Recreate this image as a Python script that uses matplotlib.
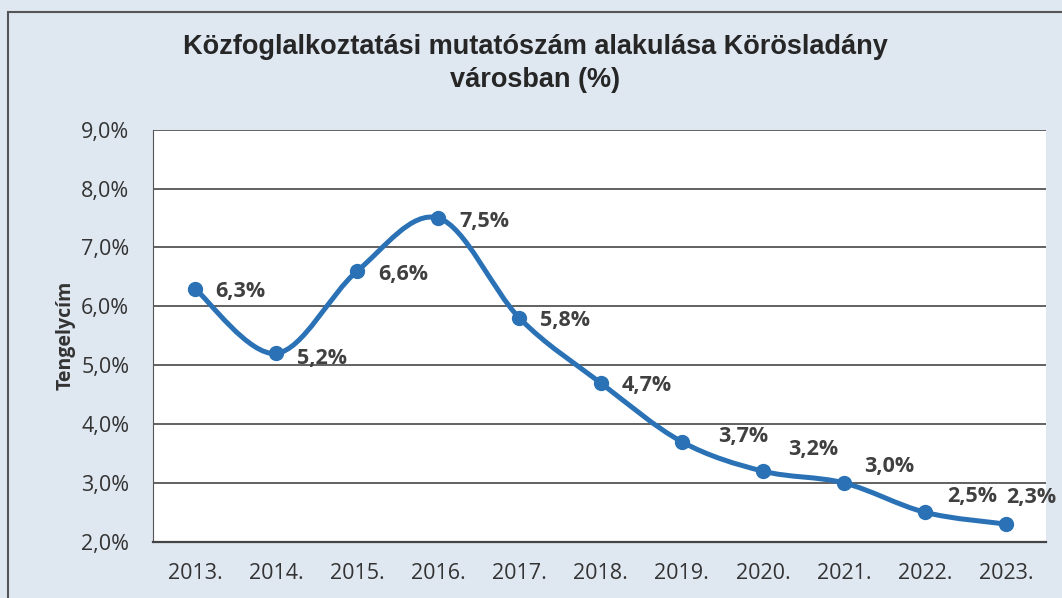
import numpy as np
import matplotlib.pyplot as plt
from matplotlib.path import Path
from matplotlib.patches import PathPatch, Rectangle
from matplotlib.ticker import FuncFormatter

years = ["2013.", "2014.", "2015.", "2016.", "2017.", "2018.",
         "2019.", "2020.", "2021.", "2022.", "2023."]
values = [6.3, 5.2, 6.6, 7.5, 5.8, 4.7, 3.7, 3.2, 3.0, 2.5, 2.3]

title = "Közfoglalkoztatási mutatószám alakulása Körösladány\nvárosban (%)"
ylabel = "Tengelycím"

# label placement (pixels from the marker to the label's left/middle)
label_offsets = [(20, -3), (21, -5), (21, -3), (21, -3), (21, -2), (21, -3),
                 (36, 5), (25, 22), (20, 16), (22, 16), (0, 27)]

line_col = "#2a72b5"
text_col = "#404040"


def smooth_path(x, y):
    # catmull-rom style bezier, like the spreadsheet "smoothed line"
    pts = np.column_stack([x, y]).astype(float)
    verts = [pts[0]]
    codes = [Path.MOVETO]
    n = len(pts)
    for i in range(n - 1):
        p0 = pts[i - 1] if i > 0 else pts[i]
        p1 = pts[i]
        p2 = pts[i + 1]
        p3 = pts[i + 2] if i + 2 < n else pts[i + 1]
        c1 = p1 + (p2 - p0) / 6.0
        c2 = p2 - (p3 - p1) / 6.0
        verts += [c1, c2, p2]
        codes += [Path.CURVE4] * 3
    return Path(verts, codes)


fig = plt.figure(figsize=(10.62, 5.98), dpi=100)
fig.patch.set_facecolor("#dfe7f1")
fig.patches.append(Rectangle((0.008, -0.05), 1.1, 1.03, transform=fig.transFigure,
                             fill=False, edgecolor="#555555", lw=1.5))

ax = fig.add_axes([0.144, 0.094, 0.841, 0.689])
ax.set_facecolor("white")
x = np.arange(len(values))

ax.add_patch(PathPatch(smooth_path(x, values), fill=False, edgecolor=line_col,
                       lw=3.6, capstyle="round", joinstyle="round", zorder=3))
ax.plot(x, values, "o", color=line_col, ms=10, zorder=4)

for xi, v, (dx, dy) in zip(x, values, label_offsets):
    ax.annotate(f"{v:.1f}%".replace(".", ","), (xi, v), xytext=(dx, dy),
                textcoords="offset pixels", ha="left", va="center",
                fontsize=15.5, fontweight="bold", color=text_col,
                family="Open Sans", zorder=5, annotation_clip=False)

ax.set_xlim(-0.518, 10.49)
ax.set_ylim(2.0, 9.0)
ax.set_yticks(np.arange(2, 9.1, 1))
ax.yaxis.set_major_formatter(FuncFormatter(lambda v, p: f"{v:.1f}%".replace(".", ",")))
ax.set_xticks(x)
ax.set_xticklabels(years)
ax.grid(axis="y", color="#555555", lw=1.3)
ax.set_axisbelow(True)
ax.tick_params(length=0, labelsize=15.5, labelcolor="#333333")
ax.tick_params(axis="x", pad=15)
ax.tick_params(axis="y", pad=17)
for lab in ax.get_xticklabels() + ax.get_yticklabels():
    lab.set_family("Open Sans")
for s in ["top", "right"]:
    ax.spines[s].set_visible(False)
ax.spines["left"].set_color("#555555")
ax.spines["bottom"].set_color("#444444")
ax.spines["bottom"].set_linewidth(1.6)

ax.set_ylabel(ylabel, fontsize=14, fontweight="bold", color="#333333",
              family="Open Sans", labelpad=4)

fig.text(0.504, 0.894, title, ha="center", va="center", fontsize=19.5,
         fontweight="bold", color="#262626", linespacing=1.35,
         family=["Liberation Sans", "DejaVu Sans"])

fig.savefig("out.png", dpi=100, facecolor=fig.get_facecolor())
